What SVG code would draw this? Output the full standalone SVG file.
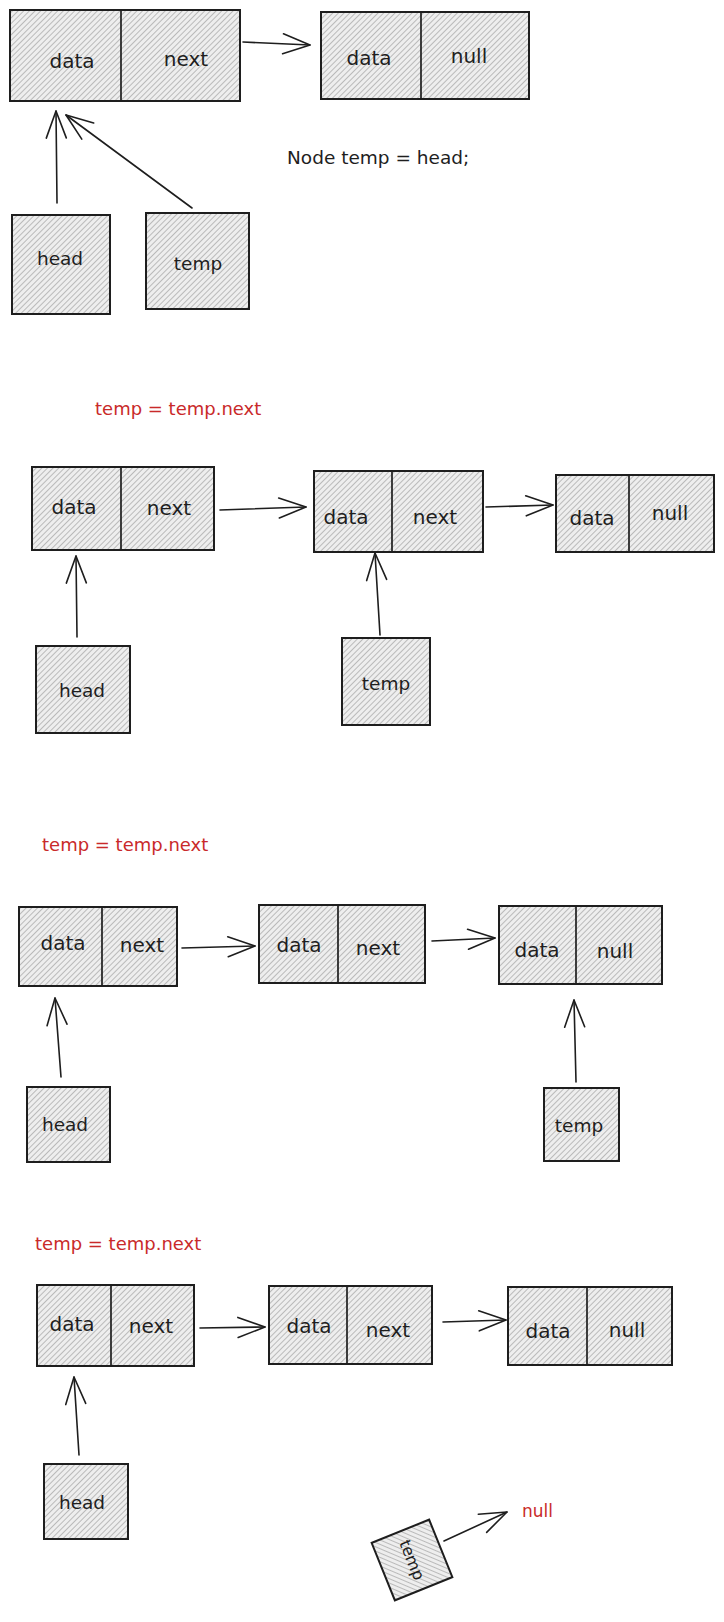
<svg xmlns="http://www.w3.org/2000/svg" width="724" height="1622" viewBox="0 0 724 1622">
<defs>
<pattern id="hatch" patternUnits="userSpaceOnUse" width="4" height="4" patternTransform="rotate(45)">
<rect width="4" height="4" fill="#eeeeee"/>
<line x1="0" y1="0" x2="0" y2="4" stroke="#8f8f8f" stroke-width="1.1"/>
</pattern>
<marker id="arr" markerUnits="userSpaceOnUse" markerWidth="40" markerHeight="40" refX="0" refY="0" viewBox="-30 -15 40 30" orient="auto" overflow="visible">
<path d="M-27,-10 L0,0 L-27,10" fill="none" stroke="#1e1e1e" stroke-width="1.6" stroke-linecap="round" stroke-linejoin="round"/>
</marker>
<style>
.box{fill:url(#hatch);stroke:#1e1e1e;stroke-width:2;}
.dv{stroke:#1e1e1e;stroke-width:1.7;}
.lbl{font-family:"DejaVu Sans","Liberation Sans",sans-serif;font-size:20px;fill:#1e1e1e;text-anchor:middle;dominant-baseline:central;}
.var{font-size:18.5px;}
.note{font-family:"DejaVu Sans","Liberation Sans",sans-serif;font-size:18.5px;fill:#1e1e1e;dominant-baseline:central;}
.red{font-family:"DejaVu Sans","Liberation Sans",sans-serif;font-size:18px;fill:#c92a2a;dominant-baseline:central;}
.conn line{stroke:#1e1e1e;stroke-width:1.6;fill:none;stroke-linecap:round;marker-end:url(#arr);}
</style>
</defs>
<rect width="724" height="1622" fill="#ffffff"/>

<!-- Section 1 -->
<g id="s1-node1"><rect class="box" x="10" y="10" width="230" height="91"/><line class="dv" x1="121" y1="10" x2="121" y2="101"/><text class="lbl" x="72" y="61">data</text><text class="lbl" x="186" y="59">next</text></g>
<g id="s1-node2"><rect class="box" x="321" y="12" width="208" height="87"/><line class="dv" x1="421" y1="12" x2="421" y2="99"/><text class="lbl" x="369" y="58">data</text><text class="lbl" x="469" y="56">null</text></g>
<g id="s1-head"><rect class="box" x="12" y="215" width="98" height="99"/><text class="lbl var" x="60" y="258">head</text></g>
<g id="s1-temp"><rect class="box" x="146" y="213" width="103" height="96"/><text class="lbl var" x="198" y="263">temp</text></g>
<g id="s1-note"><text class="note" x="287" y="157">Node temp = head;</text></g>

<!-- Section 2 -->
<g id="s2-title"><text class="red" x="95" y="408">temp = temp.next</text></g>
<g id="s2-node1"><rect class="box" x="32" y="467" width="182" height="83"/><line class="dv" x1="121" y1="467" x2="121" y2="550"/><text class="lbl" x="74" y="507">data</text><text class="lbl" x="169" y="508">next</text></g>
<g id="s2-node2"><rect class="box" x="314" y="471" width="169" height="81"/><line class="dv" x1="392" y1="471" x2="392" y2="552"/><text class="lbl" x="346" y="517">data</text><text class="lbl" x="435" y="517">next</text></g>
<g id="s2-node3"><rect class="box" x="556" y="475" width="158" height="77"/><line class="dv" x1="629" y1="475" x2="629" y2="552"/><text class="lbl" x="592" y="518">data</text><text class="lbl" x="670" y="513">null</text></g>
<g id="s2-head"><rect class="box" x="36" y="646" width="94" height="87"/><text class="lbl var" x="82" y="690">head</text></g>
<g id="s2-temp"><rect class="box" x="342" y="638" width="88" height="87"/><text class="lbl var" x="386" y="683">temp</text></g>

<!-- Section 3 -->
<g id="s3-title"><text class="red" x="42" y="844">temp = temp.next</text></g>
<g id="s3-node1"><rect class="box" x="19" y="907" width="158" height="79"/><line class="dv" x1="102" y1="907" x2="102" y2="986"/><text class="lbl" x="63" y="943">data</text><text class="lbl" x="142" y="945">next</text></g>
<g id="s3-node2"><rect class="box" x="259" y="905" width="166" height="78"/><line class="dv" x1="338" y1="905" x2="338" y2="983"/><text class="lbl" x="299" y="945">data</text><text class="lbl" x="378" y="948">next</text></g>
<g id="s3-node3"><rect class="box" x="499" y="906" width="163" height="78"/><line class="dv" x1="576" y1="906" x2="576" y2="984"/><text class="lbl" x="537" y="950">data</text><text class="lbl" x="615" y="951">null</text></g>
<g id="s3-head"><rect class="box" x="27" y="1087" width="83" height="75"/><text class="lbl var" x="65" y="1124">head</text></g>
<g id="s3-temp"><rect class="box" x="544" y="1088" width="75" height="73"/><text class="lbl var" x="579" y="1125">temp</text></g>

<!-- Section 4 -->
<g id="s4-title"><text class="red" x="35" y="1243">temp = temp.next</text></g>
<g id="s4-node1"><rect class="box" x="37" y="1285" width="157" height="81"/><line class="dv" x1="111" y1="1285" x2="111" y2="1366"/><text class="lbl" x="72" y="1324">data</text><text class="lbl" x="151" y="1326">next</text></g>
<g id="s4-node2"><rect class="box" x="269" y="1286" width="163" height="78"/><line class="dv" x1="347" y1="1286" x2="347" y2="1364"/><text class="lbl" x="309" y="1326">data</text><text class="lbl" x="388" y="1330">next</text></g>
<g id="s4-node3"><rect class="box" x="508" y="1287" width="164" height="78"/><line class="dv" x1="587" y1="1287" x2="587" y2="1365"/><text class="lbl" x="548" y="1331">data</text><text class="lbl" x="627" y="1330">null</text></g>
<g id="s4-head"><rect class="box" x="44" y="1464" width="84" height="75"/><text class="lbl var" x="82" y="1502">head</text></g>
<g id="s4-temp" transform="rotate(68 412 1560)"><rect class="box" x="381" y="1529" width="62" height="62"/><text class="lbl" style="font-size:16px" x="412" y="1560">temp</text></g>
<g id="s4-null"><text class="red" style="font-size:17px" x="522" y="1511">null</text></g>

<g id="connectors" class="conn">
<line x1="243" y1="42" x2="310" y2="45"/>
<line x1="57" y1="203" x2="56" y2="111"/>
<line x1="192" y1="208" x2="66" y2="115"/>
<line x1="220" y1="510" x2="306" y2="507"/>
<line x1="486" y1="507" x2="553" y2="505"/>
<line x1="77" y1="637" x2="76" y2="556"/>
<line x1="380" y1="635" x2="375" y2="553"/>
<line x1="182" y1="948" x2="255" y2="946"/>
<line x1="432" y1="941" x2="495" y2="938"/>
<line x1="61" y1="1077" x2="55" y2="998"/>
<line x1="576" y1="1082" x2="574" y2="1000"/>
<line x1="200" y1="1328" x2="265" y2="1327"/>
<line x1="443" y1="1322" x2="506" y2="1320"/>
<line x1="79" y1="1455" x2="74" y2="1377"/>
<line x1="444" y1="1541" x2="507" y2="1512"/>
</g>
</svg>
